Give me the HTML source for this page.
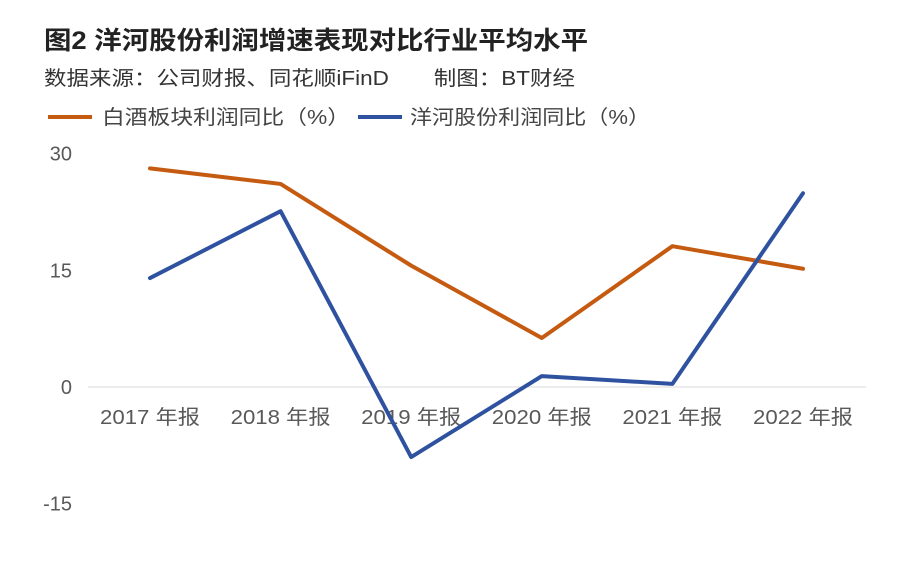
<!DOCTYPE html>
<html><head><meta charset="utf-8"><style>
body{margin:0;background:#fff;width:901px;height:559px;overflow:hidden;font-family:"Liberation Sans","Noto Sans CJK SC",sans-serif;}
</style></head><body>
<svg width="901" height="559" xmlns="http://www.w3.org/2000/svg">
<text x="44" y="49" font-size="25" font-weight="bold" fill="#222" textLength="544" lengthAdjust="spacingAndGlyphs" font-family="Liberation Sans, Noto Sans CJK SC, sans-serif">图2 洋河股份利润增速表现对比行业平均水平</text>
<text x="44" y="85" font-size="20" fill="#333" textLength="531" lengthAdjust="spacingAndGlyphs" font-family="Liberation Sans, Noto Sans CJK SC, sans-serif">数据来源：公司财报、同花顺iFinD　　制图：BT财经</text>
<g>
<line x1="48" y1="117" x2="92" y2="117" stroke="#C55A11" stroke-width="4"/>
<text x="102" y="124" font-size="20" fill="#444" textLength="248" lengthAdjust="spacingAndGlyphs" font-family="Liberation Sans, Noto Sans CJK SC, sans-serif">白酒板块利润同比（%）</text>
<line x1="358" y1="117" x2="402" y2="117" stroke="#2F52A0" stroke-width="4"/>
<text x="410" y="124" font-size="20" fill="#444" textLength="240" lengthAdjust="spacingAndGlyphs" font-family="Liberation Sans, Noto Sans CJK SC, sans-serif">洋河股份利润同比（%）</text>
</g>
<g id="plot"></g>
</svg>
<script>
const categories=["2017 年报","2018 年报","2019 年报","2020 年报","2021 年报","2022 年报"];
const baijiu=[28.1,26.1,15.6,6.3,18.1,15.2];
const yanghe=[14.0,22.6,-9.0,1.4,0.4,24.9];
const yTicks=[30,15,0,-15];
const NS="http://www.w3.org/2000/svg";
const g=document.getElementById('plot');
const y=v=>387-v*(116.7/15);
const x=i=>150+i*130.6;
function mk(t,a){const e=document.createElementNS(NS,t);for(const k in a)e.setAttribute(k,a[k]);g.appendChild(e);return e;}
const ax=mk('line',{x1:88,x2:866,y1:y(0),y2:y(0),stroke:'#d9d9d9','stroke-width':1});


yTicks.forEach(t=>{const e=mk('text',{x:72,y:y(t)+7,'font-size':20,fill:'#595959','text-anchor':'end','font-family':'Liberation Sans, sans-serif'});e.textContent=t;

});
categories.forEach((c,i)=>{const e=mk('text',{x:x(i),y:424,'font-size':20,fill:'#595959','text-anchor':'middle',textLength:100,lengthAdjust:'spacingAndGlyphs','font-family':'Liberation Sans, Noto Sans CJK SC, sans-serif'});e.textContent=c;

});
function line(d,col,name){const p=mk('polyline',{points:d.map((v,i)=>x(i)+','+y(v)).join(' '),fill:'none',stroke:col,'stroke-width':4,'stroke-linejoin':'round','stroke-linecap':'round'});

}
line(baijiu,'#C55A11','series-baijiu');
line(yanghe,'#2F52A0','series-yanghe');
</script>
</body></html>
